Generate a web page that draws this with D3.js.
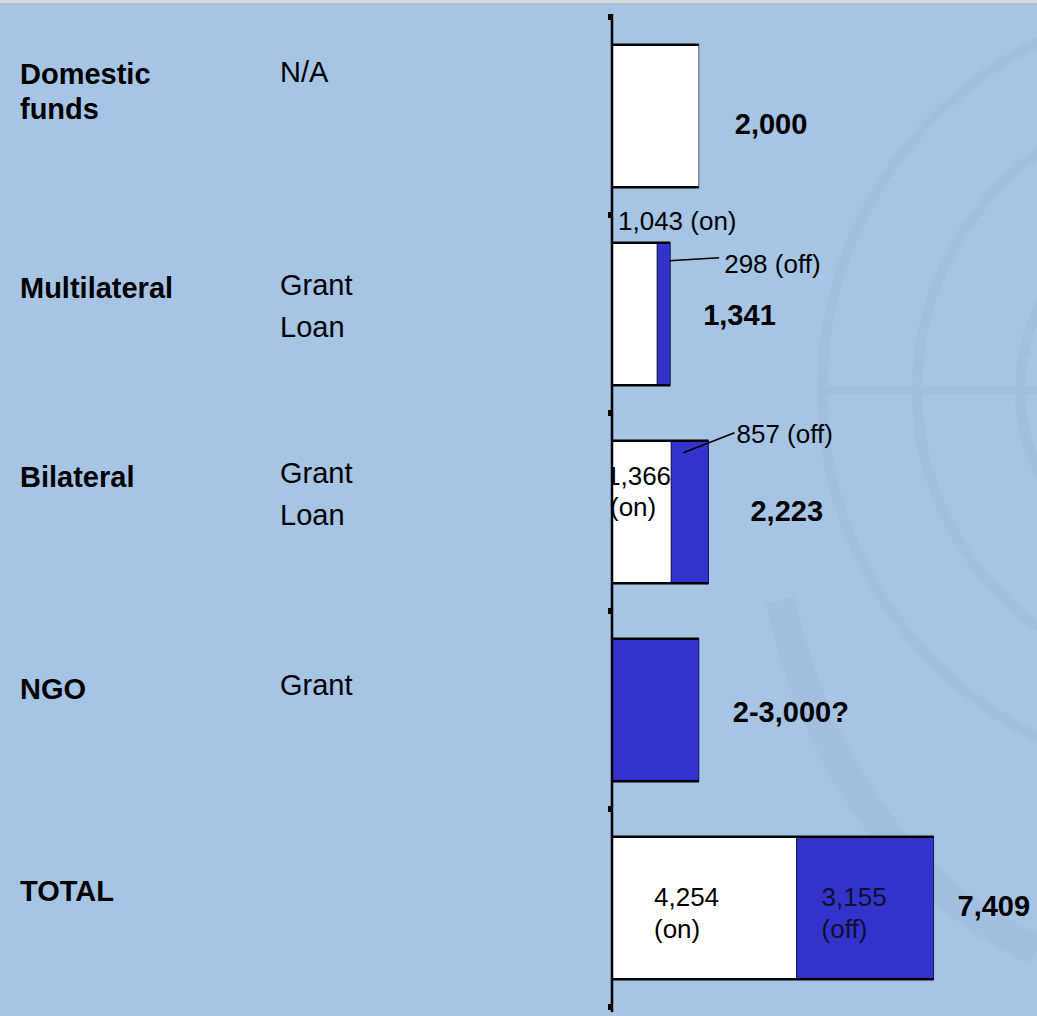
<!DOCTYPE html>
<html>
<head>
<meta charset="utf-8">
<script src="https://cdn.jsdelivr.net/npm/d3@7"></script>
<style>
  body { margin: 0; background: #a6c4e4; }
  svg { display: block; font-family: "Liberation Sans", Arial, sans-serif; }
</style>
</head>
<body>
<div id="chart"></div>
<script>
// chart values
var categories = ["Domestic funds", "Multilateral", "Bilateral", "NGO", "TOTAL"];
var categoryLines = [["Domestic", "funds"], ["Multilateral"], ["Bilateral"], ["NGO"], ["TOTAL"]];
var fundTypes = [["N/A"], ["Grant", "Loan"], ["Grant", "Loan"], ["Grant"], []];
var onBudget = [2000, 1043, 1366, 0, 4254];
var offBudget = [0, 298, 857, 2000, 3155];
var totalLabels = ["2,000", "1,341", "2,223", "2-3,000?", "7,409"];

var width = 1037,
  height = 1016;

var svg = d3.select("#chart").append("svg")
    .attr("width", width)
    .attr("height", height);

// background + faint emblem watermark
svg.append("rect").attr("width", width).attr("height", height).attr("fill", "#a6c4e4");
svg.append("rect").attr("width", width).attr("height", 3).attr("fill", "#d3d8de");
svg.append("line").attr("x1", 0).attr("x2", width).attr("y1", 3.5).attr("y2", 3.5)
  .attr("stroke", "#b4bfcc").attr("stroke-width", 1);

var mark = svg.append("g").attr("fill", "none").attr("stroke", "#9ab6dc").attr("opacity", 0.3);
[388, 293, 190].forEach(function(r) {
  mark.append("circle").attr("cx", 1210).attr("cy", 390).attr("r", r).attr("stroke-width", 10);
});
mark.append("line").attr("x1", 822).attr("x2", width).attr("y1", 390).attr("y2", 390).attr("stroke-width", 8);
mark.append("path").attr("stroke-width", 30)
  .attr("d", "M780,600 C820,780 920,900 1037,950");

var x = d3.scaleLinear()
    .domain([0, 8000])
    .range([612, 612 + 8000 * 0.0434]);

var y = d3.scaleBand()
    .domain(categories)
    .range([17, 1007])
    .paddingInner(0.28)
    .paddingOuter(0.14);

var rows = categories.map(function(c, i) {
  return { cat: c, lines: categoryLines[i], types: fundTypes[i],
    on: onBudget[i], off: offBudget[i], total: totalLabels[i] };
});

// text placement per row (baseline offsets from band centre)
var labelDy = [-32, -16, -25, -11, -7];
var typeDy = [-34, -19, -29, -15, 0];
var totalDx = [36, 33, 42, 34, 24];
var totalDy = [18, 11, 9, 12, 8];

// left-hand texts
rows.forEach(function(d, i) {
  var cy = y(d.cat) + y.bandwidth() / 2;
  svg.append("text")
    .attr("x", 20)
    .attr("y", cy + labelDy[i])
    .attr("font-size", 29)
    .attr("font-weight", "bold")
    .selectAll("tspan")
    .data(d.lines)
    .enter().append("tspan")
      .attr("x", 20)
      .attr("dy", function(t, j) { return j ? 35 : 0; })
      .text(function(t) { return t; });

  svg.append("text")
    .attr("y", cy + typeDy[i])
    .attr("font-size", 29)
    .selectAll("tspan")
    .data(d.types)
    .enter().append("tspan")
      .attr("x", 280)
      .attr("dy", function(t, j) { return j ? 42 : 0; })
      .text(function(t) { return t; });
});

// bars
var bars = svg.append("g");

bars.selectAll(".onBar")
    .data(rows.filter(function(d) { return d.on > 0; }))
  .enter().append("rect")
    .attr("class", "onBar")
    .attr("x", x(0))
    .attr("y", function(d) { return y(d.cat); })
    .attr("width", function(d) { return x(d.on) - x(0); })
    .attr("height", y.bandwidth())
    .attr("fill", "#ffffff")
    .attr("stroke", "#555")
    .attr("stroke-width", 1);

bars.selectAll(".offBar")
    .data(rows.filter(function(d) { return d.off > 0; }))
  .enter().append("rect")
    .attr("class", "offBar")
    .attr("x", function(d) { return x(d.on); })
    .attr("y", function(d) { return y(d.cat); })
    .attr("width", function(d) { return x(d.on + d.off) - x(d.on); })
    .attr("height", y.bandwidth())
    .attr("fill", "#3333cc")
    .attr("stroke", "#1a1a55")
    .attr("stroke-width", 1);

// heavy top / bottom edges
rows.forEach(function(d) {
  [y(d.cat), y(d.cat) + y.bandwidth()].forEach(function(yy) {
    bars.append("line")
      .attr("x1", x(0)).attr("x2", x(d.on + d.off))
      .attr("y1", yy).attr("y2", yy)
      .attr("stroke", "#000").attr("stroke-width", 2.5);
  });
});

// totals
rows.forEach(function(d, i) {
  svg.append("text")
    .attr("x", x(d.on + d.off) + totalDx[i])
    .attr("y", y(d.cat) + y.bandwidth() / 2 + totalDy[i])
    .attr("font-size", 29)
    .attr("font-weight", "bold")
    .text(d.total);
});

// segment annotations
var fmt = d3.format(",");
var ann = svg.append("g").attr("font-size", 26).attr("fill", "#000");

function barTop(i) { return y(categories[i]); }

// multilateral
ann.append("text").attr("x", x(0) + 6).attr("y", barTop(1) - 13)
  .text(fmt(onBudget[1]) + " (on)");
ann.append("line")
  .attr("x1", x(onBudget[1] + offBudget[1]) - 1).attr("y1", barTop(1) + 18)
  .attr("x2", x(onBudget[1] + offBudget[1]) + 49).attr("y2", barTop(1) + 15)
  .attr("stroke", "#000").attr("stroke-width", 1.5);
ann.append("text").attr("x", x(onBudget[1] + offBudget[1]) + 54).attr("y", barTop(1) + 30)
  .text(fmt(offBudget[1]) + " (off)");

// bilateral
svg.append("clipPath").attr("id", "clipBar")
  .append("rect").attr("x", x(0) + 1).attr("y", 0).attr("width", 400).attr("height", height);
var bil = ann.append("g").attr("clip-path", "url(#clipBar)");
bil.append("text").attr("x", x(0) - 6).attr("y", barTop(2) + 44).text(fmt(onBudget[2]));
bil.append("text").attr("x", x(0) - 2).attr("y", barTop(2) + 75).text("(on)");
ann.append("line")
  .attr("x1", x(onBudget[2]) + 12).attr("y1", barTop(2) + 12)
  .attr("x2", x(onBudget[2] + offBudget[2]) + 26).attr("y2", barTop(2) - 8)
  .attr("stroke", "#000").attr("stroke-width", 1.5);
ann.append("text").attr("x", x(onBudget[2] + offBudget[2]) + 28).attr("y", barTop(2) + 2)
  .text(fmt(offBudget[2]) + " (off)");

// total
var tc = y(categories[4]) + y.bandwidth() / 2;
ann.append("text").attr("x", x(0) + 42).attr("y", tc - 2).text(fmt(onBudget[4]));
ann.append("text").attr("x", x(0) + 42).attr("y", tc + 30).text("(on)");
ann.append("text").attr("x", x(onBudget[4]) + 25).attr("y", tc - 2).attr("fill", "#10102e").text(fmt(offBudget[4]));
ann.append("text").attr("x", x(onBudget[4]) + 25).attr("y", tc + 30).attr("fill", "#10102e").text("(off)");

// category axis with boundary ticks
var axis = svg.append("g");
axis.append("line")
  .attr("x1", x(0)).attr("x2", x(0))
  .attr("y1", 14).attr("y2", 1012)
  .attr("stroke", "#000").attr("stroke-width", 2.5);

var bounds = categories.map(function(c) { return y(c) - y.step() * y.paddingInner() / 2; });
bounds.push(bounds[bounds.length - 1] + y.step());
axis.selectAll(".tick")
    .data(bounds)
  .enter().append("rect")
    .attr("class", "tick")
    .attr("x", x(0) - 4)
    .attr("y", function(d) { return d - 3; })
    .attr("width", 3)
    .attr("height", 6)
    .attr("fill", "#000");
</script>
</body>
</html>
